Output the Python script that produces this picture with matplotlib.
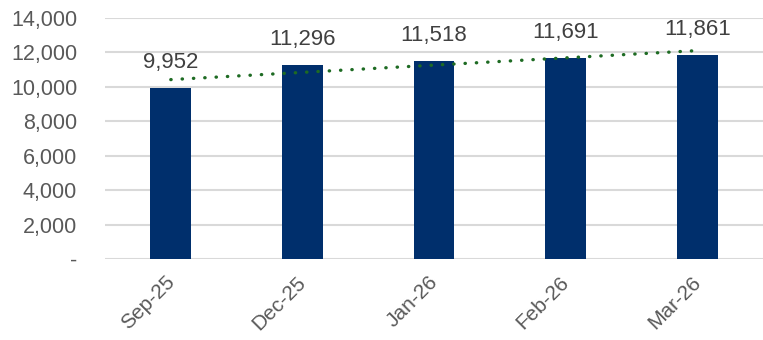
import numpy as np
import matplotlib.pyplot as plt
import matplotlib.transforms as mtransforms
from matplotlib.ticker import FuncFormatter

months = ['Sep-25', 'Dec-25', 'Jan-26', 'Feb-26', 'Mar-26']
values = [9952, 11296, 11518, 11691, 11861]

plt.rcParams['font.family'] = ['Liberation Sans', 'DejaVu Sans']

fig = plt.figure(figsize=(7.63, 3.40), dpi=100)
ax = fig.add_axes([105 / 763, 1 - 259 / 340, 1 - 105 / 763, (259 - 18) / 340])

x = np.arange(len(months))
ax.bar(x, values, width=0.31, color='#002F6C', zorder=3)

# linear trendline
slope, intercept = np.polyfit(x, values, 1)
ax.plot(x, slope * x + intercept, color='#1E6B23', lw=2.4,
        linestyle=(0, (0.1, 3.3)), dash_capstyle='round', zorder=4)

for xi, v in zip(x, values):
    ax.annotate(f'{v:,}', (xi, v), xytext=(0, 18), textcoords='offset points',
                ha='center', va='center', fontsize=16, color='#404040', zorder=5)

ax.set_xlim(-0.5, 4.5)
ax.set_ylim(0, 14000)
ax.set_yticks(range(0, 14001, 2000))
ax.yaxis.set_major_formatter(FuncFormatter(lambda v, p: '-' if v == 0 else f'{int(v):,}'))
ax.set_xticks(x)
ax.set_xticklabels(months, rotation=45, ha='right', rotation_mode='anchor')
ax.tick_params(axis='both', length=0, labelsize=15.5, colors='#595959')
ax.tick_params(axis='x', labelsize=15)
ax.tick_params(axis='y', pad=20)
ax.tick_params(axis='x', pad=9)
ax.grid(axis='y', color='#D9D9D9', lw=1.5, zorder=0)
for s in ax.spines.values():
    s.set_visible(False)

shift = mtransforms.ScaledTranslation(-6 / 100, -1 / 100, fig.dpi_scale_trans)
for lbl in ax.get_xticklabels():
    lbl.set_transform(lbl.get_transform() + shift)

fig.savefig('out.png', dpi=100)
